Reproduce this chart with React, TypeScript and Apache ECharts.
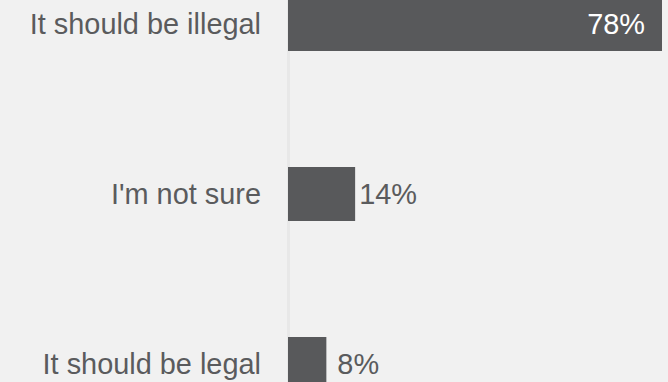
import React, { useEffect, useRef } from "react";
import * as echarts from "echarts";

const categories = ["It should be illegal", "I'm not sure", "It should be legal"];
const values = [78, 14, 8];
const labelDistances = [17, 4, 11];

export default function App() {
  const ref = useRef<HTMLDivElement>(null);
  useEffect(() => {
    const chart = echarts.init(ref.current!, undefined, { renderer: "svg" });
    const font = "Arial, 'Liberation Sans', sans-serif";
    chart.setOption({
      animation: false,
      backgroundColor: "#f1f1f1",
      grid: { left: 288, top: 0, width: 479.5, height: 510, containLabel: false },
      xAxis: {
        type: "value",
        min: 0,
        max: 100,
        show: false,
      },
      yAxis: {
        type: "category",
        data: categories,
        inverse: true,
        axisLine: { show: true, lineStyle: { color: "#e8e8e8", width: 3 } },
        axisTick: { show: false },
        splitLine: { show: false },
        axisLabel: {
          color: "#5a5b5d",
          fontSize: 28.9,
          fontFamily: font,
          margin: 27,
        },
      },
      series: [
        {
          type: "bar",
          barWidth: 54,
          itemStyle: { color: "#58595b" },
          data: values.map((v, i) => ({
            value: v,
            label: {
              show: true,
              position: i === 0 ? "insideRight" : "right",
              distance: labelDistances[i],
              color: i === 0 ? "#ffffff" : "#5a5b5d",
              fontSize: 28.9,
              fontFamily: font,
              formatter: "{c}%",
            },
          })),
        },
      ],
    });
    return () => chart.dispose();
  }, []);
  return (
    <div
      style={{
        position: "fixed",
        left: 0,
        top: 0,
        width: 668,
        height: 382,
        overflow: "hidden",
        background: "#f1f1f1",
      }}
    >
      <div
        ref={ref}
        style={{ position: "absolute", left: 0, top: -61, width: 768, height: 510 }}
      />
    </div>
  );
}
